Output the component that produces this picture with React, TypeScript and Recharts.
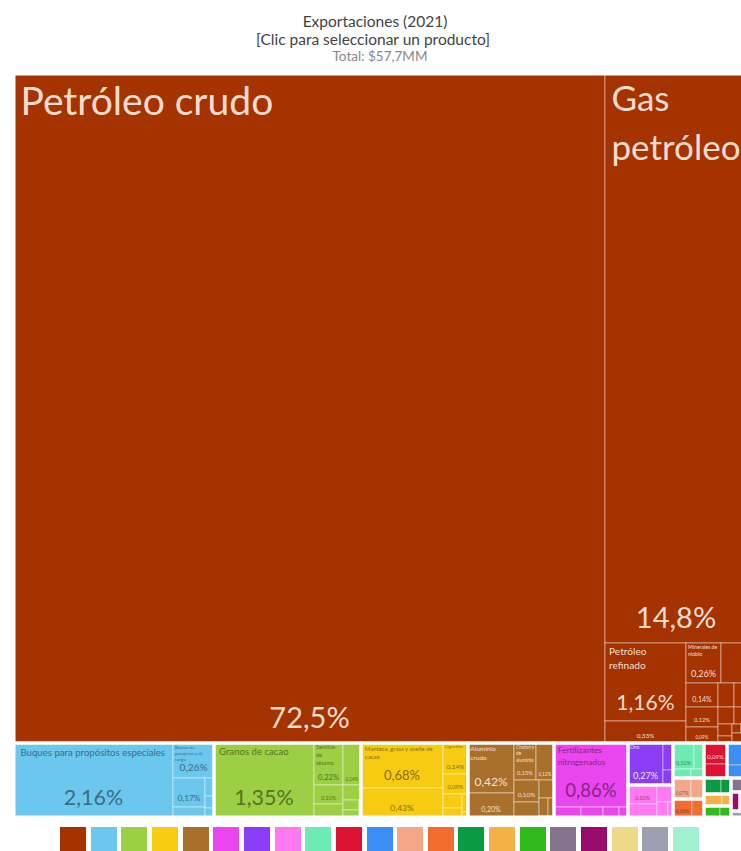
import React from 'react';
import { Treemap } from 'recharts';

// ---------- DATA (percent of total exports, 2021) ----------
const GROUP_NAMES = [
  'Productos minerales', 'Transporte', 'Productos vegetales', 'Productos alimenticios', 'Metales',
  'Productos químicos', 'Metales preciosos', 'Plásticos y cauchos', 'Pieles de animales', 'Productos de madera',
  'Máquinas', 'Piedra y vidrio', 'Productos animales', 'Textiles', 'Grasas animales y vegetales',
  'Calzado y sombreros', 'Arte y antigüedades', 'Instrumentos', 'Productos de papel', 'Misceláneos', 'Armas',
];
const GROUP_COLORS = [
  '#A53300', '#6BC7EE', '#9DCF44', '#F6CB12', '#A8702A', '#E946EF', '#8A3DF4', '#FF7AF2', '#6DEBB2', '#DC1333',
  '#3B8EF3', '#F4A688', '#F26B2F', '#0A9A44', '#F3B146', '#31BA1C', '#85738F', '#990B6C', '#EDD986', '#9EA0B2', '#A1F0CF',
];

const MINERAL_NAMES = ['Petróleo crudo', 'Gas petróleo', 'Petróleo refinado', 'Minerales de estaño', 'Minerales de niobio', 'Minerales de plomo', 'Minerales de zinc', 'Cemento', 'Coque de petróleo', 'Sal', 'Yeso', 'Minerales de hierro', 'Carbón', 'Piedra caliza', 'Arena', 'Arcilla', 'Azufre', 'Grafito'];
const MINERAL_VALUES = [72.5, 14.8, 1.16, 0.33, 0.26, 0.19, 0.14, 0.12, 0.09, 0.07, 0.06, 0.05, 0.04, 0.03, 0.02, 0.015, 0.01, 0.005];
const TRANSPORT_NAMES = ['Buques para propósitos especiales', 'Barcos de pasajeros y de carga', 'Remolcadores', 'Aeronaves', 'Partes de vehículos', 'Camiones', 'Automóviles'];
const TRANSPORT_VALUES = [2.16, 0.26, 0.17, 0.06, 0.03, 0.02, 0.01];
const VEGETABLE_NAMES = ['Granos de cacao', 'Semillas de sésamo', 'Jengibre', 'Otras nueces', 'Anacardos', 'Soja', 'Frijoles secos', 'Pimienta', 'Frutas tropicales'];
const VEGETABLE_VALUES = [1.35, 0.22, 0.14, 0.1, 0.07, 0.05, 0.03, 0.02, 0.01];
const FOOD_NAMES = ['Manteca, grasa y aceite de cacao', 'Pasta de cacao', 'Cigarrillos', 'Cacao en polvo', 'Agua', 'Azúcar', 'Alimentos preparados', 'Cerveza'];
const FOOD_VALUES = [0.68, 0.43, 0.14, 0.09, 0.05, 0.03, 0.02, 0.01];
const METAL_NAMES = ['Aluminio crudo', 'Chatarra de hierro', 'Chatarra de aluminio', 'Chatarra de cobre', 'Plomo refinado', 'Zinc en bruto', 'Barras de hierro', 'Chatarra de plomo', 'Alambre de hierro', 'Estaño en bruto'];
const METAL_VALUES = [0.42, 0.2, 0.15, 0.12, 0.1, 0.07, 0.05, 0.03, 0.02, 0.01];
const CHEMICAL_NAMES = ['Fertilizantes nitrogenados', 'Jabón', 'Medicamentos envasados', 'Pinturas', 'Cosméticos'];
const CHEMICAL_VALUES = [0.86, 0.05, 0.04, 0.03, 0.02];
const PRECIOUS_NAMES = ['Oro', 'Piedras preciosas', 'Plata'];
const PRECIOUS_VALUES = [0.27, 0.05, 0.03];
const PLASTIC_NAMES = ['Caucho natural', 'Polímeros de propileno', 'Artículos de plástico', 'Bolsas de plástico', 'Neumáticos'];
const PLASTIC_VALUES = [0.1, 0.07, 0.05, 0.03, 0.01];
const HIDE_NAMES = ['Cuero caprino', 'Cuero bovino', 'Pieles en bruto', 'Cuero ovino'];
const HIDE_VALUES = [0.1, 0.05, 0.03, 0.02];
const WOOD_NAMES = ['Carbón vegetal', 'Madera aserrada'];
const WOOD_VALUES = [0.09, 0.06];
const MACHINE_NAMES = ['Motores eléctricos', 'Bombas'];
const MACHINE_VALUES = [0.08, 0.05];
const STONE_NAMES = ['Botellas de vidrio', 'Artículos de piedra'];
const STONE_VALUES = [0.07, 0.05];
const ANIMAL_NAMES = ['Camarones', 'Pescado congelado'];
const ANIMAL_VALUES = [0.06, 0.04];
const TEXTILE_NAMES = ['Algodón en bruto', 'Ropa usada'];
const TEXTILE_VALUES = [0.05, 0.03];
const FAT_NAMES = ['Aceite de palma', 'Manteca de karité'];
const FAT_VALUES = [0.04, 0.02];
const FOOTWEAR_NAMES = ['Calzado', 'Sombreros'];
const FOOTWEAR_VALUES = [0.03, 0.02];
const ART_NAMES = ['Antigüedades'];
const ART_VALUES = [0.04];
const INSTRUMENT_NAMES = ['Instrumentos médicos'];
const INSTRUMENT_VALUES = [0.03];
const PAPER_NAMES = ['Papel'];
const PAPER_VALUES = [0.025];
const MISC_NAMES = ['Muebles'];
const MISC_VALUES = [0.02];
const WEAPON_NAMES = ['Armas'];
const WEAPON_VALUES = [0.015];

const GROUP_ITEMS: [string[], number[]][] = [
  [MINERAL_NAMES, MINERAL_VALUES], [TRANSPORT_NAMES, TRANSPORT_VALUES], [VEGETABLE_NAMES, VEGETABLE_VALUES],
  [FOOD_NAMES, FOOD_VALUES], [METAL_NAMES, METAL_VALUES], [CHEMICAL_NAMES, CHEMICAL_VALUES],
  [PRECIOUS_NAMES, PRECIOUS_VALUES], [PLASTIC_NAMES, PLASTIC_VALUES], [HIDE_NAMES, HIDE_VALUES],
  [WOOD_NAMES, WOOD_VALUES], [MACHINE_NAMES, MACHINE_VALUES], [STONE_NAMES, STONE_VALUES],
  [ANIMAL_NAMES, ANIMAL_VALUES], [TEXTILE_NAMES, TEXTILE_VALUES], [FAT_NAMES, FAT_VALUES],
  [FOOTWEAR_NAMES, FOOTWEAR_VALUES], [ART_NAMES, ART_VALUES], [INSTRUMENT_NAMES, INSTRUMENT_VALUES],
  [PAPER_NAMES, PAPER_VALUES], [MISC_NAMES, MISC_VALUES], [WEAPON_NAMES, WEAPON_VALUES],
];

const TITLE = 'Exportaciones (2021)';
const SUBTITLE = '[Clic para seleccionar un producto]';
const TOTAL = 'Total: $57,7MM';

// ---------- tables for the library ----------
const treeData = GROUP_ITEMS.map(([names, values], gi) => ({
  name: GROUP_NAMES[gi],
  gi,
  children: names.map((n, i) => ({ name: n, size: values[i], gi })),
}));
const groupData = GROUP_ITEMS.map(([, values], gi) => ({
  name: GROUP_NAMES[gi],
  gi,
  size: values.reduce((a, b) => a + b, 0),
}));

// ---------- helpers ----------
const FONT = 'Lato';
const TM_W = 733;
const TM_H = 743;
const VISIBLE_W = 741 - 14;

let ctx: CanvasRenderingContext2D | null = null;
function measure(text: string, size: number) {
  if (!ctx) ctx = document.createElement('canvas').getContext('2d');
  if (!ctx) return text.length * size * 0.5;
  ctx.font = `${size}px ${FONT}`;
  return ctx.measureText(text).width;
}
function wrap(text: string, size: number, maxW: number) {
  const words = text.split(' ');
  const lines: string[] = [];
  let cur = '';
  for (const w of words) {
    const t = cur ? cur + ' ' + w : w;
    if (!cur || measure(t, size) <= maxW) cur = t;
    else {
      lines.push(cur);
      cur = w;
    }
  }
  if (cur) lines.push(cur);
  return lines;
}
function rgb(hex: string) {
  const n = parseInt(hex.slice(1), 16);
  return [(n >> 16) & 255, (n >> 8) & 255, n & 255];
}
function textColor(fill: string) {
  const [r, g, b] = rgb(fill);
  const lum = 0.299 * r + 0.587 * g + 0.114 * b;
  if (lum < 132) return 'rgba(255,238,228,0.93)';
  return `rgb(${Math.round(r * 0.55)},${Math.round(g * 0.55)},${Math.round(b * 0.55)})`;
}
const fmtPct = (v: number) => (v >= 10 ? v.toFixed(1) : v.toFixed(2)).replace('.', ',') + '%';

function LeafCell(props: any) {
  const { x, y, width: w, height: h, depth, name, gi } = props;
  if (depth !== 2 || w <= 0 || h <= 0) return <g />;
  const value = props.size ?? props.value;
  const fill = GROUP_COLORS[gi];
  const tc = textColor(fill);
  const pad = Math.max(2, Math.min(6.5, w * 0.05));
  const avail = w - 2 * pad;
  const words = String(name).split(' ');
  const longest = Math.max(...words.map((wd) => measure(wd, 1)));
  const nf = Math.min(39, avail / longest, 0.13 * h);
  const pf = Math.min(29, 0.29 * h, 0.26 * w);
  // small boxes cut by the right edge of the picture carry no readable label
  const clipped = x + w > VISIBLE_W && w < 100;
  const lines = nf >= 4 && !clipped ? wrap(String(name), nf, avail) : [];
  const lh = nf * 1.4;
  const maxLines = Math.max(0, Math.floor((h - pf * 1.2 - pad) / lh));
  const shown = lines.slice(0, maxLines);
  return (
    <g>
      <rect x={x} y={y} width={w} height={h} fill={fill} stroke="rgba(255,255,255,0.45)" strokeWidth={1} />
      {shown.map((ln, i) => (
        <text key={i} x={x + pad} y={y + pad * 0.6 + nf * 0.95 + i * lh} fontFamily={FONT} fontSize={nf} fill={tc}>
          {ln}
        </text>
      ))}
      {pf >= 4.5 && !clipped && (
        <text x={x + w / 2} y={y + h - pf * 0.45 - 2} textAnchor="middle" fontFamily={FONT} fontSize={pf} fill={tc}>
          {fmtPct(value)}
        </text>
      )}
    </g>
  );
}

function GroupCell(props: any) {
  const { x, y, width: w, height: h, depth } = props;
  if (depth !== 1) return <g />;
  return <rect x={x} y={y} width={w} height={h} fill="none" stroke="#ffffff" strokeWidth={3} />;
}

export default function App() {
  return (
    <div
      style={{
        position: 'absolute',
        left: 0,
        top: 0,
        width: 741,
        height: 851,
        overflow: 'hidden',
        background: '#ffffff',
      }}
    >
      <svg width={741} height={74} style={{ position: 'absolute', left: 0, top: 0 }}>
        <text x={375} y={27} textAnchor="middle" fontFamily={FONT} fontSize={15.5} fill="#444">
          {TITLE}
        </text>
        <text x={373} y={45} textAnchor="middle" fontFamily={FONT} fontSize={15.5} fill="#444">
          {SUBTITLE}
        </text>
        <text x={380} y={61} textAnchor="middle" fontFamily={FONT} fontSize={13.5} fill="#888">
          {TOTAL}
        </text>
      </svg>
      <div style={{ position: 'absolute', left: 14, top: 74 }}>
        <Treemap
          width={TM_W}
          height={TM_H}
          data={treeData}
          dataKey="size"
          nameKey="name"
          isAnimationActive={false}
          content={(p: any) => <LeafCell {...p} />}
        />
      </div>
      <div style={{ position: 'absolute', left: 14, top: 74 }}>
        <Treemap
          width={TM_W}
          height={TM_H}
          data={groupData}
          dataKey="size"
          nameKey="name"
          isAnimationActive={false}
          content={(p: any) => <GroupCell {...p} />}
        />
      </div>
      {GROUP_COLORS.map((c, i) => (
        <div
          key={i}
          title={GROUP_NAMES[i]}
          style={{
            position: 'absolute',
            left: 60 + i * 30.65,
            top: 827,
            width: 26,
            height: 26,
            background: c,
          }}
        />
      ))}
    </div>
  );
}
